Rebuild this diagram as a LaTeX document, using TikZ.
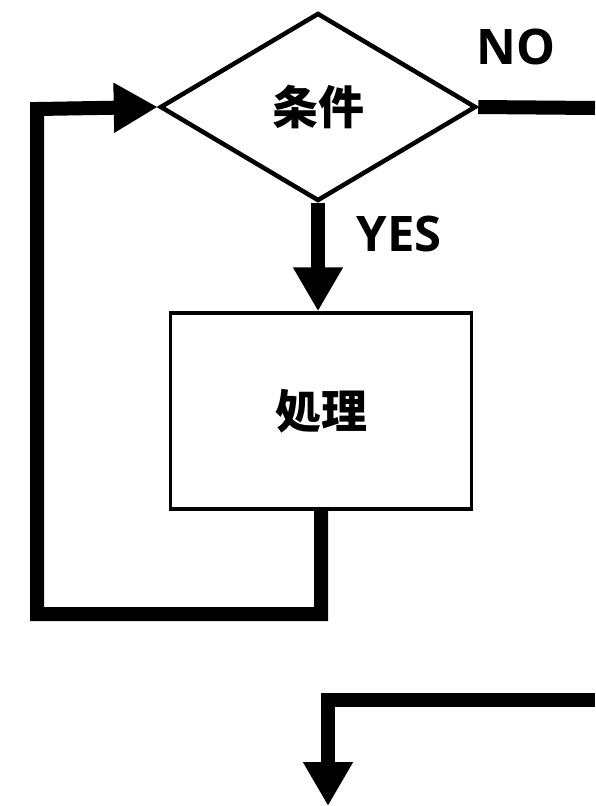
\documentclass[tikz,border=0pt]{standalone}
\usepackage{fontspec}
\setmainfont{Noto Sans CJK JP}
\newfontfamily\latinlbl{Open Sans}
\usetikzlibrary{shapes.geometric,arrows.meta}
\tikzset{
  flowline/.style={line width=14pt, line join=miter, line cap=butt},
  flowarrow/.style={flowline, -{Triangle[length=44pt,width=47pt]}},
  decision/.style={diamond, draw, line width=4.5pt, minimum width=316pt, minimum height=188pt, inner sep=0pt, font=\fontsize{46}{50}\selectfont\bfseries},
  procbox/.style={rectangle, draw, line width=3.5pt, minimum width=301pt, minimum height=196pt, inner sep=0pt, font=\fontsize{46}{50}\selectfont\bfseries},
  lbl/.style={font=\latinlbl\fontsize{49}{54}\selectfont\bfseries, inner sep=0pt}
}
\begin{document}
\begin{tikzpicture}[x=1pt,y=-1pt]
\useasboundingbox (0,0) rectangle (595,806);
\fill[white] (0,0) rectangle (595,806);
\node[decision] (cond) at (318,107) {条件};
\node[procbox] (proc) at (321,411) {処理};
\node[lbl] (no) at (516,47) {NO};
\node[lbl] (yes) at (399,234) {YES};
% YES branch
\draw[flowarrow] (cond.south) -- (cond.south |- proc.north);
% NO branch
\coordinate (noend) at (595,108);
\draw[flowline] (cond.east) -- (noend);
% loop back
\coordinate (lb1) at (proc.south |- 0,614);
\coordinate (lb2) at (37,614);
\coordinate (lb3) at (37,109);
\draw[flowarrow] (proc.south) -- (lb1) -- (lb2) -- (lb3) -- (cond.west);
% bottom incoming line
\coordinate (inR) at (595,700);
\coordinate (inC) at (328,700);
\coordinate (outB) at (328,806);
\draw[flowarrow] (inR) -- (inC) -- (outB);
\end{tikzpicture}
\end{document}
